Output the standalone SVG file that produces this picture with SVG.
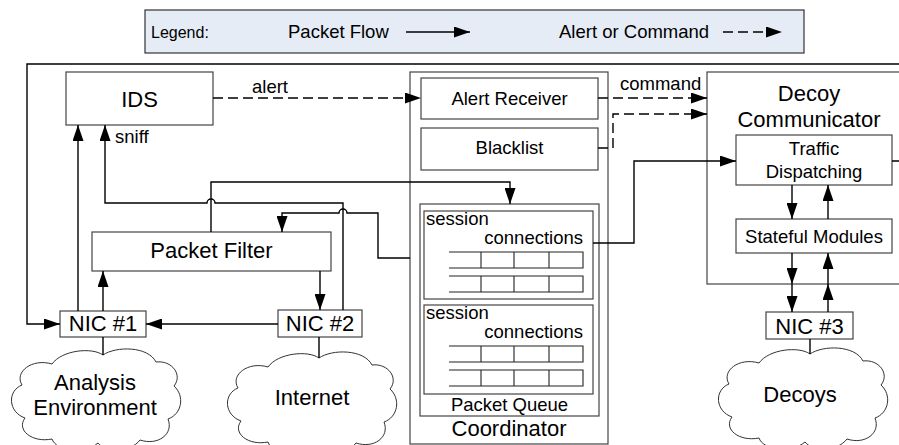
<svg xmlns="http://www.w3.org/2000/svg" width="899" height="445" viewBox="0 0 899 445">
<style>
text{font-family:"Liberation Sans",Arial,Helvetica,sans-serif;fill:#000}
.box{fill:#fff;stroke:#444;stroke-width:1.2}
.ln{fill:none;stroke:#000;stroke-width:1.4}
.dash{stroke-dasharray:10 5}
.cloud{fill:#fff;stroke:#333;stroke-width:1}
.s{font-size:18.5px}
.b{font-size:22px}
.m{text-anchor:middle}
</style>
<defs>
<marker id="ah" markerUnits="userSpaceOnUse" markerWidth="16" markerHeight="11" refX="16" refY="5.5" orient="auto"><path d="M0,0 L16,5.5 L0,11 z" fill="#000"/></marker>
<path id="cloudShape" d="M95,5 C108,-4 140,-4 148,12 C164,10 175,25 166,36 C177,46 174,64 160,69 C166,84 150,96 132,90 C122,103 98,103 90,93 C76,105 48,101 44,89 C24,93 8,80 17,68 C0,62 -1,41 14,35 C6,22 24,8 44,14 C54,0 84,-3 95,5 Z"/>
<g id="row" fill="none" stroke="#222" stroke-width="1.1"><path d="M449,0 H583 V16 H449 M481,0 V16 M514,0 V16 M549,0 V16"/></g>
</defs>

<g id="legend">
<rect x="145" y="10" width="659" height="43" fill="#e6ecf6" stroke="#333" stroke-width="1.2"/>
<text x="151" y="38" style="font-size:16px">Legend:</text>
<text x="288" y="38" class="s">Packet Flow</text>
<path d="M406,32 H470" class="ln" marker-end="url(#ah)"/>
<text x="559" y="38" class="s">Alert or Command</text>
<path d="M723,32 H782" class="ln dash" marker-end="url(#ah)"/>
</g>

<g id="ids"><rect class="box" x="66" y="72" width="147" height="53"/><text x="139.5" y="107" class="b m">IDS</text></g>
<g id="packet-filter"><rect class="box" x="92" y="232" width="239" height="39"/><text x="211.5" y="258" class="b m">Packet Filter</text></g>
<g id="nic1"><rect class="box" x="60" y="311" width="86" height="26"/><text x="103" y="331" class="b m">NIC #1</text></g>
<g id="nic2"><rect class="box" x="278" y="310" width="84" height="27"/><text x="320" y="331" class="b m">NIC #2</text></g>
<g id="nic3"><rect class="box" x="766" y="312" width="87" height="27"/><text x="809.5" y="334" class="b m">NIC #3</text></g>

<g id="analysis-env"><use href="#cloudShape" class="cloud" transform="translate(8,350)"/><text x="95" y="390" class="b m">Analysis</text><text x="95" y="415" class="b m">Environment</text></g>
<g id="internet"><use href="#cloudShape" class="cloud" transform="translate(224,353)"/><text x="312" y="405" class="b m">Internet</text></g>
<g id="decoys"><use href="#cloudShape" class="cloud" transform="translate(715,349)"/><text x="800" y="402" class="b m">Decoys</text></g>

<g id="coordinator">
<rect class="box" x="410" y="72" width="198" height="372"/>
<text x="509" y="436" class="b m">Coordinator</text>
</g>
<g id="alert-receiver"><rect class="box" x="421" y="78" width="177" height="41"/><text x="509.5" y="105" class="s m">Alert Receiver</text></g>
<g id="blacklist"><rect class="box" x="421" y="128" width="177" height="42"/><text x="509.5" y="154" class="s m">Blacklist</text></g>
<g id="packet-queue">
<rect class="box" x="420" y="204" width="179" height="212"/>
<text x="509.5" y="411" class="s m">Packet Queue</text>
</g>
<g id="session1">
<rect class="box" x="424" y="211" width="169" height="88"/>
<text x="426" y="225" class="s">session</text>
<text x="583" y="244" class="s" text-anchor="end">connections</text>
<use href="#row" transform="translate(0,252)"/>
<use href="#row" transform="translate(0,276)"/>
</g>
<g id="session2">
<rect class="box" x="424" y="305" width="169" height="89"/>
<text x="426" y="319" class="s">session</text>
<text x="583" y="338" class="s" text-anchor="end">connections</text>
<use href="#row" transform="translate(0,346)"/>
<use href="#row" transform="translate(0,370)"/>
</g>

<g id="decoy-communicator">
<rect class="box" x="707" y="72" width="220" height="212"/>
<text x="809" y="101" class="b m">Decoy</text>
<text x="809" y="127" class="b m">Communicator</text>
</g>
<g id="traffic-dispatching"><rect class="box" x="736" y="135" width="156" height="50"/><text x="814" y="155" class="s m">Traffic</text><text x="814" y="178" class="s m">Dispatching</text></g>
<g id="stateful-modules"><rect class="box" x="736" y="219" width="156" height="34"/><text x="814" y="243" class="s m">Stateful Modules</text></g>

<g id="connectors">
<path class="ln" d="M892,161 H915 V64 H27 V324 H60" marker-end="url(#ah)"/>
<path class="ln" d="M78,311 V125" marker-end="url(#ah)"/>
<path class="ln" d="M103,311 V271" marker-end="url(#ah)"/>
<path class="ln" d="M320,271 V310" marker-end="url(#ah)"/>
<path class="ln" d="M278,324 H146" marker-end="url(#ah)"/>
<path class="ln" d="M343,310 V203 H215 A4,4 0 0 0 207,203 H105 V125" marker-end="url(#ah)"/>
<text x="115" y="143" class="s">sniff</text>
<path class="ln" d="M211,232 V182 H510 V204" marker-end="url(#ah)"/>
<path class="ln" d="M410,258 H378 V213 H347 A4,4 0 0 0 339,213 H282 V232" marker-end="url(#ah)"/>
<path class="ln dash" d="M213,98 H421" marker-end="url(#ah)"/>
<text x="252" y="93" class="s">alert</text>
<path class="ln" d="M598,98 H608 M598,148 H608"/>
<path class="ln dash" d="M613,98 H707" marker-end="url(#ah)"/>
<path class="ln dash" d="M613,148 V114 H707" marker-end="url(#ah)"/>
<text x="620" y="90" class="s">command</text>
<path class="ln" d="M593,243 H634 V161 H736" marker-end="url(#ah)"/>
<path class="ln" d="M792,185 V219" marker-end="url(#ah)"/>
<path class="ln" d="M828,219 V185" marker-end="url(#ah)"/>
<path class="ln" d="M792,253 V284" marker-end="url(#ah)"/>
<path class="ln" d="M792,284 V312" marker-end="url(#ah)"/>
<path class="ln" d="M828,312 V284" marker-end="url(#ah)"/>
<path class="ln" d="M828,284 V253" marker-end="url(#ah)"/>
<path class="ln" d="M103,337 V355 M319,337 V358 M810,339 V354"/>
</g>
</svg>
